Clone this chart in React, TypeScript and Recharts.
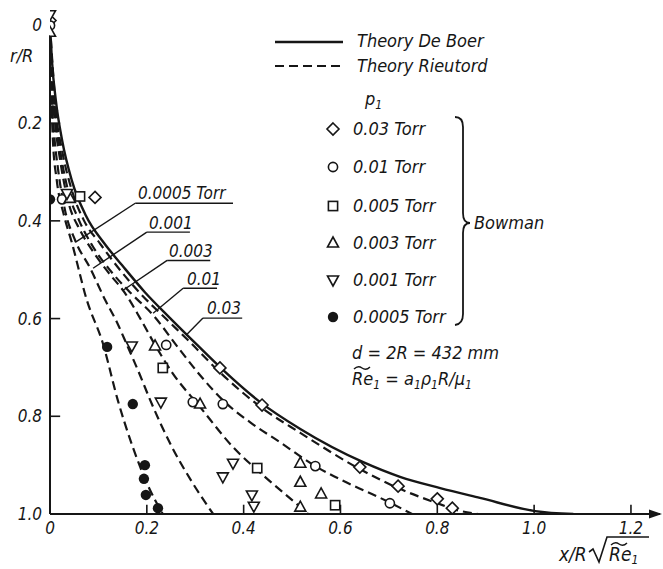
import React from "react";
import {
  ComposedChart,
  Line,
  Scatter,
  XAxis,
  YAxis,
  ReferenceLine,
  ReferenceDot,
} from "recharts";

// ---------- data ----------
const xTicks = [0, 0.2, 0.4, 0.6, 0.8, 1.0, 1.2];
const yTicks = [0, 0.2, 0.4, 0.6, 0.8, 1.0];
const yInnerTicks = [0.2, 0.4, 0.6, 0.8];

type P = [number, number];

const theoryDeBoer: P[] = [
  [0, 0], [0.004, 0.072], [0.012, 0.153], [0.025, 0.235], [0.045, 0.317],
  [0.074, 0.389], [0.112, 0.446], [0.149, 0.491], [0.196, 0.546], [0.248, 0.599],
  [0.304, 0.654], [0.355, 0.703], [0.434, 0.771], [0.517, 0.826], [0.647, 0.894],
  [0.723, 0.924], [0.806, 0.947], [0.888, 0.967], [1.002, 0.994], [1.081, 1.0],
];

const rieutord003: P[] = [
  [0, 0], [0.006, 0.092], [0.012, 0.174], [0.025, 0.256], [0.045, 0.337],
  [0.07, 0.399], [0.103, 0.446], [0.145, 0.501], [0.186, 0.548], [0.238, 0.599],
  [0.289, 0.648], [0.351, 0.71], [0.438, 0.783], [0.517, 0.834], [0.64, 0.908],
  [0.719, 0.947], [0.8, 0.978], [0.841, 0.992], [0.884, 1.0],
];
const rieutord001: P[] = [
  [0, 0], [0.004, 0.092], [0.01, 0.174], [0.021, 0.256], [0.037, 0.337],
  [0.06, 0.399], [0.087, 0.45], [0.124, 0.501], [0.165, 0.546], [0.213, 0.593],
  [0.269, 0.665], [0.31, 0.716], [0.357, 0.767], [0.413, 0.812], [0.475, 0.853],
  [0.548, 0.902], [0.62, 0.939], [0.682, 0.967], [0.748, 1.0],
];
const rieutord0003: P[] = [
  [0, 0], [0.004, 0.112], [0.01, 0.194], [0.021, 0.276], [0.037, 0.358],
  [0.062, 0.419], [0.087, 0.46], [0.12, 0.505], [0.155, 0.548], [0.186, 0.599],
  [0.217, 0.654], [0.252, 0.71], [0.31, 0.781], [0.378, 0.863], [0.444, 0.924],
  [0.517, 0.986], [0.533, 1.0],
];
const rieutord0001: P[] = [
  [0, 0], [0.002, 0.112], [0.008, 0.215], [0.017, 0.297], [0.031, 0.378],
  [0.052, 0.44], [0.083, 0.497], [0.114, 0.562], [0.138, 0.607], [0.159, 0.654],
  [0.186, 0.716], [0.207, 0.767], [0.252, 0.863], [0.293, 0.934], [0.337, 1.0],
];
const rieutord00005: P[] = [
  [0, 0], [0.002, 0.112], [0.006, 0.235], [0.014, 0.317], [0.029, 0.389],
  [0.045, 0.444], [0.076, 0.562], [0.109, 0.65], [0.14, 0.767], [0.171, 0.863],
  [0.202, 0.941], [0.233, 1.0],
];

// Bowman measurements
const bowman003: P[] = [
  [0, -0.01], [0.093, 0.352], [0.351, 0.701], [0.438, 0.777], [0.64, 0.904],
  [0.719, 0.943], [0.8, 0.969], [0.831, 0.988],
];
const bowman001: P[] = [
  [0, 0.0], [0.025, 0.356], [0.24, 0.654], [0.295, 0.771], [0.357, 0.775],
  [0.548, 0.902], [0.702, 0.978],
];
const bowman0005: P[] = [
  [0.062, 0.35], [0.233, 0.701], [0.428, 0.906], [0.589, 0.982],
];
const bowman0003: P[] = [
  [0, 0.014], [0.041, 0.354], [0.217, 0.656], [0.31, 0.775], [0.517, 0.896],
  [0.517, 0.935], [0.56, 0.959], [0.517, 0.986],
];
const bowman0001: P[] = [
  [0, -0.022], [0.035, 0.344], [0.169, 0.656], [0.229, 0.771], [0.378, 0.896],
  [0.357, 0.924], [0.417, 0.961], [0.421, 0.984],
];
const bowman00005: P[] = [
  [0.006, 0.174], [0, 0.356], [0.118, 0.658], [0.171, 0.775], [0.196, 0.9],
  [0.194, 0.928], [0.198, 0.961], [0.223, 0.988],
];

const curveLabels = ["0.0005 Torr", "0.001", "0.003", "0.01", "0.03"];
const legendLabels = ["0.03 Torr", "0.01 Torr", "0.005 Torr", "0.003 Torr", "0.001 Torr", "0.0005 Torr"];

// ---------- layout / style ----------
const W = 663;
const H = 569;
const INK = "#161616";
const FONT = "'DejaVu Sans Condensed', 'DejaVu Sans', sans-serif";

const pts = (a: P[]) => a.map(([x, y]) => ({ x, y }));

// leaders: underline [x1,x2,y] and leader end [x,y] in data units
const leaders: { ux1: number; ux2: number; uy: number; ex: number; ey: number }[] = [
  { ux1: 0.176, ux2: 0.378, uy: 0.364, ex: 0.052, ey: 0.444 },
  { ux1: 0.2, ux2: 0.289, uy: 0.423, ex: 0.089, ey: 0.497 },
  { ux1: 0.242, ux2: 0.331, uy: 0.481, ex: 0.151, ey: 0.542 },
  { ux1: 0.275, ux2: 0.345, uy: 0.538, ex: 0.213, ey: 0.589 },
  { ux1: 0.316, ux2: 0.397, uy: 0.599, ex: 0.281, ey: 0.634 },
];
const labelPos = [
  { x: 138, y: 199 },
  { x: 149, y: 229 },
  { x: 169, y: 257 },
  { x: 187, y: 285 },
  { x: 207, y: 314 },
];

type Kind = "diamond" | "circle" | "square" | "up" | "down" | "dot";

const drawMarker = (kind: Kind, cx: number, cy: number, key?: string) => {
  const sw = 1.6;
  const common = { stroke: INK, strokeWidth: sw, fill: "#fff" };
  switch (kind) {
    case "diamond":
      return <polygon key={key} points={`${cx},${cy - 6} ${cx + 6},${cy} ${cx},${cy + 6} ${cx - 6},${cy}`} {...common} />;
    case "circle":
      return <circle key={key} cx={cx} cy={cy} r={4.6} {...common} />;
    case "square":
      return <rect key={key} x={cx - 4.6} y={cy - 4.6} width={9.2} height={9.2} {...common} />;
    case "up":
      return <polygon key={key} points={`${cx},${cy - 6} ${cx + 5.5},${cy + 4} ${cx - 5.5},${cy + 4}`} {...common} />;
    case "down":
      return <polygon key={key} points={`${cx},${cy + 6} ${cx + 5.5},${cy - 4} ${cx - 5.5},${cy - 4}`} {...common} />;
    default:
      return <circle key={key} cx={cx} cy={cy} r={5.2} fill={INK} stroke="none" />;
  }
};

const shapeOf = (kind: Kind) => (p: any) => drawMarker(kind, p.cx, p.cy);

const scatterSeries: { data: P[]; kind: Kind }[] = [
  { data: bowman003, kind: "diamond" },
  { data: bowman001, kind: "circle" },
  { data: bowman0005, kind: "square" },
  { data: bowman0003, kind: "up" },
  { data: bowman0001, kind: "down" },
  { data: bowman00005, kind: "dot" },
];
const legendKinds: Kind[] = ["diamond", "circle", "square", "up", "down", "dot"];
const legendRowsY = [129, 167, 206, 243, 280, 317];

const dashedCurves = [rieutord003, rieutord001, rieutord0003, rieutord0001, rieutord00005];

const textStyle: React.CSSProperties = {
  fontFamily: FONT,
  fontStyle: "italic",
  fill: INK,
};

const fmt = (v: number) => (v === 0 ? "0" : v.toFixed(1));

export default function App() {
  return (
    <div style={{ position: "absolute", left: 0, top: 0, width: W, height: H, background: "#fff" }}>
      <ComposedChart
        width={W}
        height={H}
        margin={{ top: 1, right: 3, left: 0, bottom: 0 }}
      >
        <XAxis
          type="number"
          dataKey="x"
          domain={[0, 1.26]}
          ticks={xTicks}
          tickFormatter={fmt}
          allowDataOverflow
          height={55}
          tickLine={false}
          tickSize={0}
          tickMargin={8}
          axisLine={{ stroke: INK, strokeWidth: 2 }}
          tick={{ fontSize: 17, fontStyle: "italic", fontFamily: FONT, fill: INK }}
        />
        <YAxis
          type="number"
          dataKey="y"
          reversed
          domain={[-0.05, 1]}
          ticks={yTicks}
          tickFormatter={fmt}
          allowDataOverflow
          width={50}
          tickLine={false}
          tickSize={0}
          tickMargin={8}
          axisLine={false}
          tick={{ fontSize: 17, fontStyle: "italic", fontFamily: FONT, fill: INK }}
        />
        {/* y axis line */}
        <ReferenceLine segment={[{ x: 0, y: 0.02 }, { x: 0, y: 1 }]} stroke={INK} strokeWidth={2} />
        {/* inner ticks */}
        {xTicks.slice(1).map((t) => (
          <ReferenceLine key={"xt" + t} segment={[{ x: t, y: 1 }, { x: t, y: 0.981 }]} stroke={INK} strokeWidth={1.6} />
        ))}
        {yInnerTicks.map((t) => (
          <ReferenceLine key={"yt" + t} segment={[{ x: 0, y: t }, { x: 0.021, y: t }]} stroke={INK} strokeWidth={1.6} />
        ))}
        {/* leaders */}
        {leaders.map((l, i) => (
          <ReferenceLine key={"u" + i} segment={[{ x: l.ux1, y: l.uy }, { x: l.ux2, y: l.uy }]} stroke={INK} strokeWidth={1.4} />
        ))}
        {leaders.map((l, i) => (
          <ReferenceLine key={"l" + i} segment={[{ x: l.ux1, y: l.uy }, { x: l.ex, y: l.ey }]} stroke={INK} strokeWidth={1.4} />
        ))}
        <Line
          data={pts(theoryDeBoer)}
          dataKey="y"
          type="monotone"
          stroke={INK}
          strokeWidth={2.4}
          dot={false}
          activeDot={false}
          isAnimationActive={false}
        />
        {dashedCurves.map((c, i) => (
          <Line
            key={"d" + i}
            data={pts(c)}
            dataKey="y"
            type="monotone"
            stroke={INK}
            strokeWidth={2.2}
            strokeDasharray="9 5"
            dot={false}
            activeDot={false}
            isAnimationActive={false}
          />
        ))}
        {scatterSeries.map((s, i) => (
          <Scatter
            key={"s" + i}
            data={pts(s.data)}
            shape={shapeOf(s.kind)}
            isAnimationActive={false}
          />
        ))}
        <ReferenceDot
          x={1.26}
          y={1}
          r={0}
          ifOverflow="visible"
          shape={(p: any) => (
            <polygon points={`${p.cx + 2},${p.cy} ${p.cx - 11},${p.cy - 4.5} ${p.cx - 11},${p.cy + 4.5}`} fill={INK} />
          )}
        />
      </ComposedChart>

      <svg
        width={W}
        height={H}
        style={{ position: "absolute", left: 0, top: 0, pointerEvents: "none" }}
      >
        {/* axis titles */}
        <text x={10} y={62} fontSize={18} style={textStyle}>r/R</text>
        <text x={559} y={561} fontSize={19} style={textStyle}>x/R</text>
        <path d="M589,552 L593,549 L599,562 L607,537 L649,537" fill="none" stroke={INK} strokeWidth={1.6} />
        <text x={609} y={561} fontSize={19} style={textStyle}>
          Re<tspan fontSize={12} dy={3}>1</tspan>
        </text>
        <path d="M611,545 q4,-4 8,-1 t8,-1" fill="none" stroke={INK} strokeWidth={1.4} />

        {/* legend */}
        <line x1={275} y1={42} x2={343} y2={42} stroke={INK} strokeWidth={2.4} />
        <text x={357} y={47} fontSize={18} style={textStyle}>Theory De Boer</text>
        <line x1={275} y1={66} x2={343} y2={66} stroke={INK} strokeWidth={2.2} strokeDasharray="9 5" />
        <text x={357} y={72} fontSize={18} style={textStyle}>Theory Rieutord</text>
        <text x={365} y={105} fontSize={18} style={textStyle}>
          p<tspan fontSize={12} dy={4}>1</tspan>
        </text>
        {legendLabels.map((lab, i) => (
          <g key={"lg" + i}>
            {drawMarker(legendKinds[i], 333, legendRowsY[i])}
            <text x={353} y={legendRowsY[i] + 6} fontSize={18} style={textStyle}>{lab}</text>
          </g>
        ))}
        <path
          d="M455,117 Q463,117 463,127 L463,213 Q463,223 470,223 Q463,223 463,233 L463,314 Q463,324 455,325"
          fill="none"
          stroke={INK}
          strokeWidth={1.8}
        />
        <text x={474} y={229} fontSize={18} style={textStyle}>Bowman</text>
        <text x={352} y={359} fontSize={18} style={textStyle}>d = 2R = 432 mm</text>
        <text x={352} y={385} fontSize={18} style={textStyle}>
          Re<tspan fontSize={12} dy={4}>1</tspan>
          <tspan dy={-4}> = a</tspan>
          <tspan fontSize={12} dy={4}>1</tspan>
          <tspan dy={-4}>ρ</tspan>
          <tspan fontSize={12} dy={4}>1</tspan>
          <tspan dy={-4}>R/μ</tspan>
          <tspan fontSize={12} dy={4}>1</tspan>
        </text>
        <path d="M354,369 q4,-4 8,-1 t8,-1" fill="none" stroke={INK} strokeWidth={1.4} />

        {/* curve labels */}
        {curveLabels.map((lab, i) => (
          <text key={"cl" + i} x={labelPos[i].x} y={labelPos[i].y} fontSize={17} style={textStyle}>{lab}</text>
        ))}
      </svg>
    </div>
  );
}
